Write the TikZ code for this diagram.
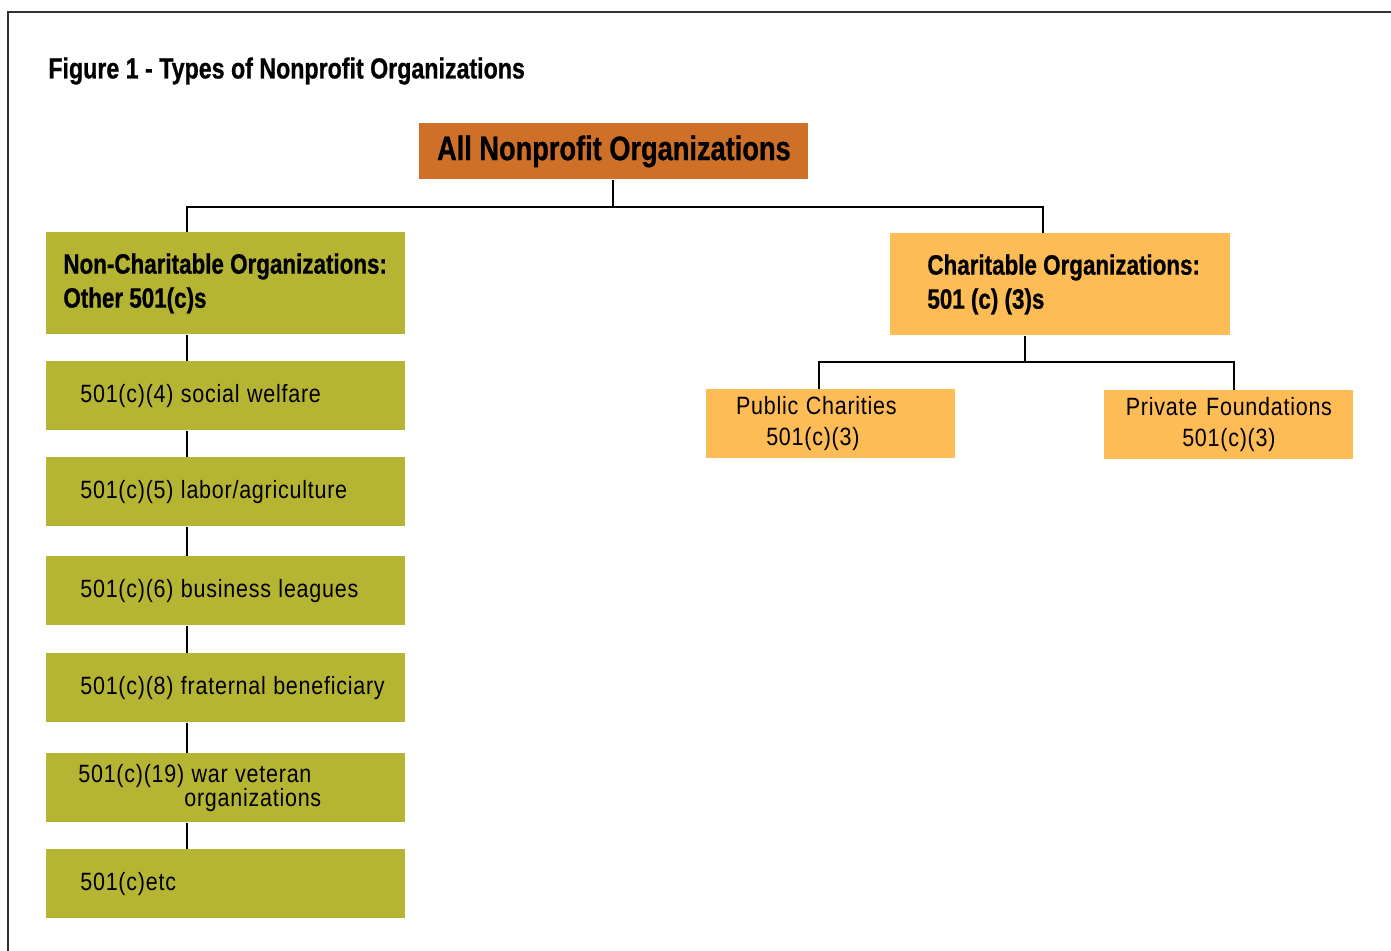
\documentclass[tikz,border=0pt]{standalone}
\usepackage{fontspec}
\usepackage{tikz}
\usepackage{xcolor}
\setmainfont{Liberation Sans}
\newfontfamily\condbold{Liberation Sans Bold}[FakeStretch=0.8,FakeBold=0.8,WordSpace=1.0]
\newfontfamily\condreg{Liberation Sans}[FakeStretch=0.86,LetterSpace=3,WordSpace=1.1]

\definecolor{rootorange}{RGB}{207,112,40}
\definecolor{lightorange}{RGB}{253,188,86}
\definecolor{olivebox}{RGB}{182,180,51}

\tikzset{
  orgbox/.style={inner sep=0pt, anchor=north west, text=black, execute at begin node={\spaceskip=0pt\relax}},
  headbox/.style={orgbox, minimum height=51pt, align=left,
    font=\condbold\fontsize{14}{17}\selectfont},
  otherbox/.style={orgbox, fill=olivebox, minimum height=34.5pt, text width=145.5pt, inner xsep=17pt,
    align=left, font=\condreg\fontsize{12.5}{12}\selectfont},
  charbox/.style={orgbox, fill=lightorange, minimum height=34.5pt, text width=124.5pt,
    align=center, font=\condreg\fontsize{12.5}{15.5}\selectfont},
  link/.style={line width=1pt, black}
}

\begin{document}
\begin{tikzpicture}[x=0.5pt,y=-0.5pt]
\useasboundingbox (0,0) rectangle (1391,951);
% frame
\draw[line width=0.9pt, black!80] (8,951) -- (8,12) -- (1391,12);

\node[anchor=west, inner sep=0pt, font=\condbold\fontsize{14.5}{16}\selectfont] (title) at (48,71) {Figure 1 - Types of Nonprofit Organizations};

% top
\node[orgbox, fill=rootorange, minimum width=194.5pt, minimum height=28pt, align=center,
  font=\condbold\fontsize{17}{20}\selectfont] (all) at (419,123) {All Nonprofit Organizations};

% non charitable column
\node[headbox, fill=olivebox, text width=162.5pt, inner xsep=8.5pt] (nonchar) at (46,232) {\mbox{Non-Charitable Organizations:}\\Other 501(c)s};
\node[otherbox] (c4) at (46,361) {501(c)(4) social welfare};
\node[otherbox] (c5) at (46,457) {501(c)(5) labor/agriculture};
\node[otherbox] (c6) at (46,556) {501(c)(6) business leagues};
\node[otherbox] (c8) at (46,653) {\mbox{501(c)(8) fraternal beneficiary}};
\node[otherbox, text width=147.5pt, inner xsep=16pt] (c19) at (46,753) {501(c)(19) war veteran\\\hspace*{53pt}organizations};
\node[otherbox] (cetc) at (46,849) {501(c)etc};

% charitable column
\node[headbox, fill=lightorange, text width=133pt, inner xsep=18.5pt] (char) at (890,233) {\mbox{Charitable Organizations:}\\501 (c) (3)s};
\node[charbox] (public) at (706,389) {\mbox{Public Charities\hspace{14.5pt}}\\\mbox{501(c)(3)\hspace{18pt}}};
\node[charbox] (private) at (1104,390) {Private Foundations\\501(c)(3)};

% connectors
\coordinate (split) at (613,207);
\coordinate (lefttrunk) at (187,207);
\coordinate (righttrunk) at (1043,207);
\draw[link] (all.south -| split) -- (split);
\draw[link] (lefttrunk |- nonchar.north) -- (lefttrunk) -- (righttrunk) -- (righttrunk |- char.north);
\foreach \a/\b in {nonchar/c4, c4/c5, c5/c6, c6/c8, c8/c19, c19/cetc}
  \draw[link] (lefttrunk |- \a.south) -- (lefttrunk |- \b.north);

\coordinate (charsplit) at (1025,362);
\coordinate (pubtop) at (819,362);
\coordinate (privtop) at (1234,362);
\draw[link] (char.south -| charsplit) -- (charsplit);
\draw[link] (pubtop |- public.north) -- (pubtop) -- (privtop) -- (privtop |- private.north);
\end{tikzpicture}
\end{document}
